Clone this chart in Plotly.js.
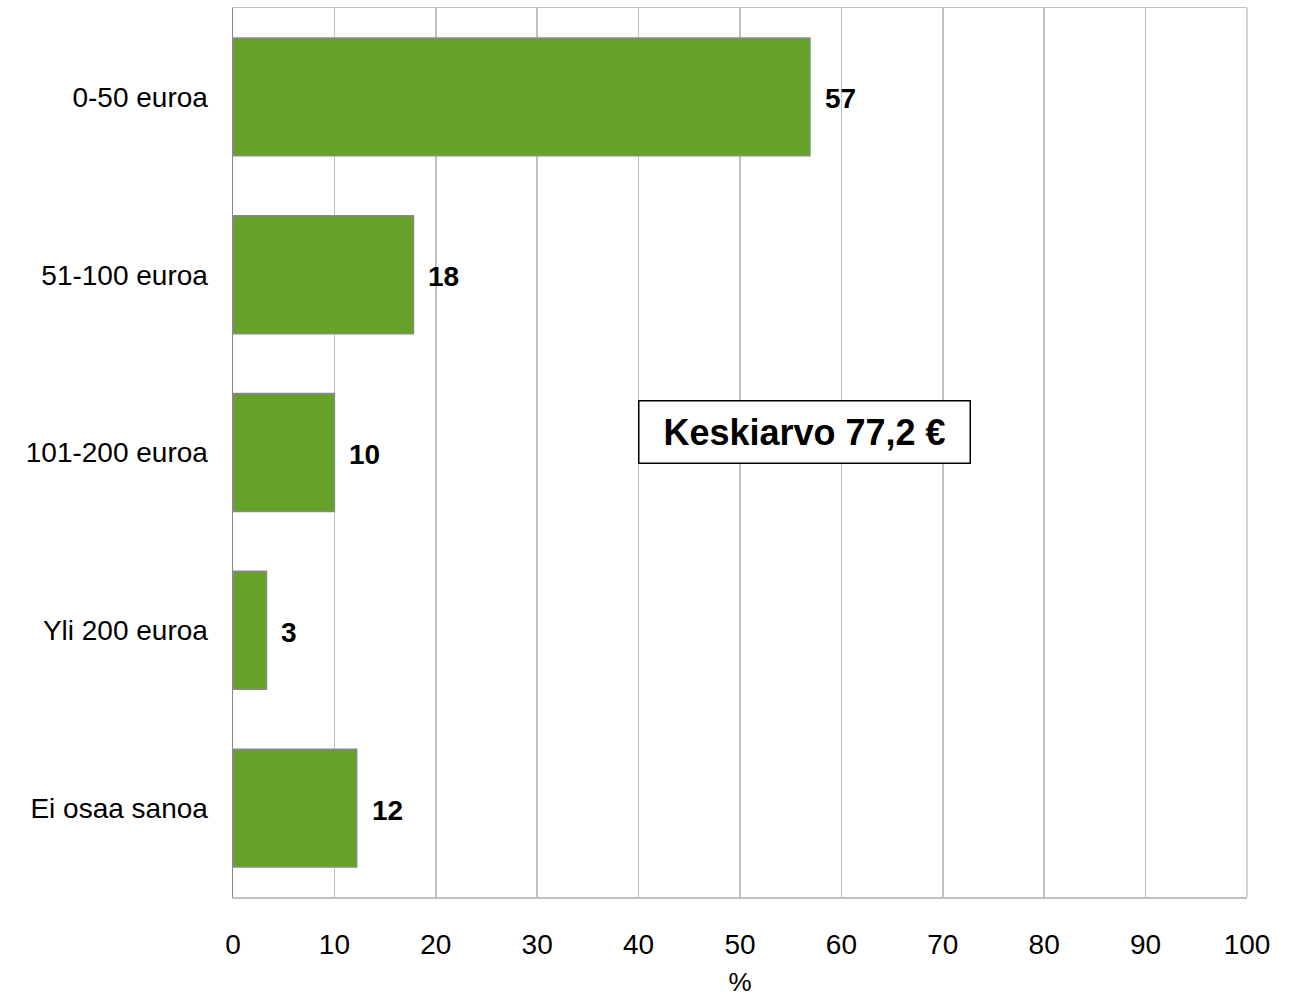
<!DOCTYPE html>
<html>
<head>
<meta charset="utf-8">
<script src="https://cdn.plot.ly/plotly-3.0.1.min.js"></script>
<style>html,body{margin:0;padding:0;background:#fff;}</style>
</head>
<body>
<div id="chart" style="width:1289px;height:997px;"></div>
<script>
const categories = ["0-50 euroa", "51-100 euroa", "101-200 euroa", "Yli 200 euroa", "Ei osaa sanoa"];
const values = [56.9, 17.8, 10.0, 3.3, 12.2];
const labels = ["57", "18", "10", "3", "12"];
const xTicks = [0, 10, 20, 30, 40, 50, 60, 70, 80, 90, 100];
const meanText = "Keskiarvo 77,2 €";

const font = "Liberation Sans, Arial, sans-serif";

const trace = {
  type: "bar",
  orientation: "h",
  x: values,
  y: categories,
  width: 0.663,
  marker: {color: "#66a12a", line: {color: "#8a8a8a", width: 1.5}},
  hoverinfo: "skip"
};

const annotations = categories.map((c, i) => ({
  x: values[i], y: c, xref: "x", yref: "y",
  text: "<b>" + labels[i] + "</b>",
  showarrow: false, xanchor: "left", yanchor: "middle", xshift: 13, yshift: -2,
  font: {family: font, size: 28, color: "#000"}
}));
annotations.push({
  x: 56.4, y: 0.523, xref: "x", yref: "paper",
  text: "<b>" + meanText + "</b>",
  showarrow: false, xanchor: "center", yanchor: "middle",
  width: 330, height: 61,
  bordercolor: "#000", borderwidth: 1.5, borderpad: 0, bgcolor: "#fff",
  font: {family: font, size: 36, color: "#000"}
});

const layout = {
  width: 1289, height: 997,
  margin: {l: 233, r: 42, t: 8, b: 100},
  paper_bgcolor: "#fff", plot_bgcolor: "#fff",
  showlegend: false,
  font: {family: font, size: 28, color: "#000"},
  xaxis: {
    range: [0, 100], tickvals: xTicks, ticktext: xTicks.map(String),
    showgrid: true, gridcolor: "#c0c0c0", gridwidth: 1.5,
    showline: true, linecolor: "#c0c0c0", linewidth: 1.5, mirror: true,
    zeroline: false, ticks: "", ticklabelstandoff: 22,
    tickfont: {family: font, size: 28, color: "#000"},
    title: {text: "%", font: {family: font, size: 26, color: "#000"}, standoff: 16}
  },
  yaxis: {
    categoryorder: "array", categoryarray: categories, autorange: "reversed",
    showgrid: false, showline: true, linecolor: "#888", linewidth: 1.5,
    zeroline: false, ticks: "", ticklabelstandoff: 18,
    tickfont: {family: font, size: 28, color: "#000"}
  },
  shapes: [{
    type: "line", xref: "paper", yref: "paper", x0: 1, x1: 1, y0: 0, y1: 1,
    line: {color: "#c0c0c0", width: 1.5}
  }],
  annotations: annotations
};

Plotly.newPlot("chart", [trace], layout, {displayModeBar: false, staticPlot: true});
</script>
</body>
</html>
